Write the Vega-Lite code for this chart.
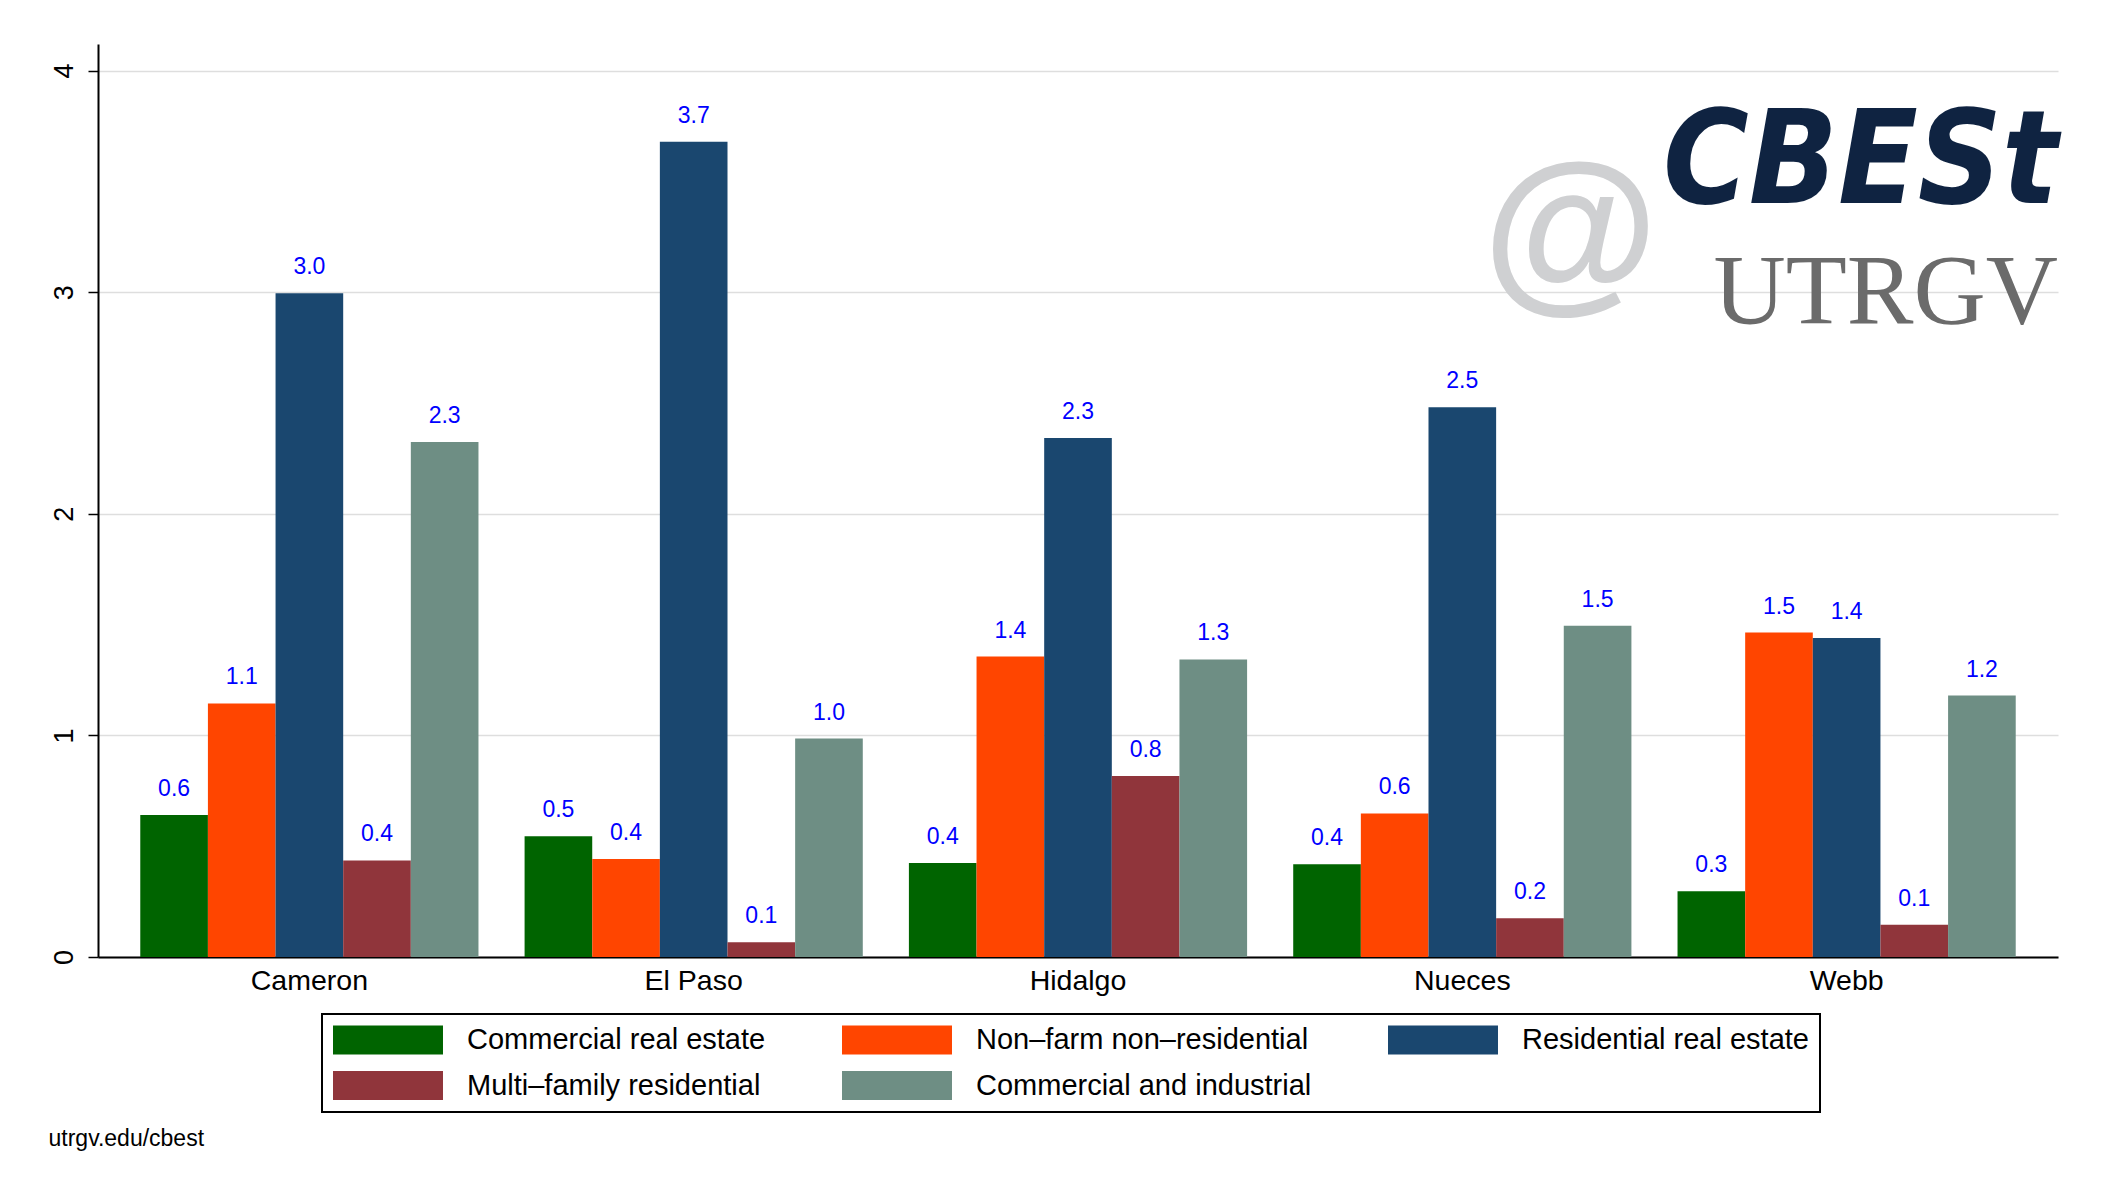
{
  "$schema": "https://vega.github.io/schema/vega-lite/v6.json",
  "width": 1960,
  "height": 913,
  "autosize": {"type": "none"},
  "padding": {"left": 98, "top": 44, "right": 43, "bottom": 244},
  "background": "white",
  "title": {
    "text": "CBESt",
    "subtitle": "UTRGV",
    "orient": "top",
    "anchor": "end",
    "frame": "group",
    "offset": -300,
    "font": "Liberation Sans Narrow, DejaVu Sans Condensed, sans-serif",
    "fontSize": 130,
    "fontWeight": "bold",
    "fontStyle": "italic",
    "color": "#0f2341",
    "subtitleFont": "Liberation Serif, DejaVu Serif, serif",
    "subtitleFontSize": 100,
    "subtitleColor": "#6b6b6b",
    "subtitlePadding": 14
  },
  "data": {
    "values": [
      {"county": "Cameron", "series": "Commercial real estate", "value": 0.641},
      {"county": "Cameron", "series": "Non–farm non–residential", "value": 1.144},
      {"county": "Cameron", "series": "Residential real estate", "value": 2.995},
      {"county": "Cameron", "series": "Multi–family residential", "value": 0.436},
      {"county": "Cameron", "series": "Commercial and industrial", "value": 2.324},
      {"county": "El Paso", "series": "Commercial real estate", "value": 0.545},
      {"county": "El Paso", "series": "Non–farm non–residential", "value": 0.442},
      {"county": "El Paso", "series": "Residential real estate", "value": 3.679},
      {"county": "El Paso", "series": "Multi–family residential", "value": 0.067},
      {"county": "El Paso", "series": "Commercial and industrial", "value": 0.986},
      {"county": "Hidalgo", "series": "Commercial real estate", "value": 0.424},
      {"county": "Hidalgo", "series": "Non–farm non–residential", "value": 1.356},
      {"county": "Hidalgo", "series": "Residential real estate", "value": 2.342},
      {"county": "Hidalgo", "series": "Multi–family residential", "value": 0.817},
      {"county": "Hidalgo", "series": "Commercial and industrial", "value": 1.343},
      {"county": "Nueces", "series": "Commercial real estate", "value": 0.418},
      {"county": "Nueces", "series": "Non–farm non–residential", "value": 0.648},
      {"county": "Nueces", "series": "Residential real estate", "value": 2.481},
      {"county": "Nueces", "series": "Multi–family residential", "value": 0.175},
      {"county": "Nueces", "series": "Commercial and industrial", "value": 1.495},
      {"county": "Webb", "series": "Commercial real estate", "value": 0.297},
      {"county": "Webb", "series": "Non–farm non–residential", "value": 1.464},
      {"county": "Webb", "series": "Residential real estate", "value": 1.44},
      {"county": "Webb", "series": "Multi–family residential", "value": 0.145},
      {"county": "Webb", "series": "Commercial and industrial", "value": 1.18}
    ]
  },
  "encoding": {
    "x": {
      "field": "county",
      "type": "nominal",
      "sort": null,
      "scale": {"paddingInner": 0.12, "paddingOuter": 0.11},
      "axis": {
        "title": "utrgv.edu/cbest",
        "titleX": -50,
        "titleY": 188,
        "titleAlign": "left",
        "titleBaseline": "alphabetic",
        "titleFontSize": 23,
        "titleFontWeight": "normal",
        "titleColor": "black",
        "labelAngle": 0,
        "labelFontSize": 28.5,
        "labelColor": "black",
        "labelPadding": 9,
        "labelBaseline": "top",
        "ticks": false,
        "tickSize": 0,
        "domain": true,
        "domainColor": "black",
        "domainWidth": 2,
        "grid": false
      }
    },
    "xOffset": {
      "field": "series",
      "type": "nominal",
      "sort": ["Commercial real estate", "Non–farm non–residential", "Residential real estate", "Multi–family residential", "Commercial and industrial"],
      "scale": {"paddingInner": 0, "paddingOuter": 0}
    },
    "y": {
      "field": "value",
      "type": "quantitative",
      "scale": {"domain": [0, 4.12], "nice": false, "zero": true},
      "axis": {
        "title": "@",
        "titleAngle": 0,
        "titleX": 1472,
        "titleY": 190,
        "titleAlign": "center",
        "titleBaseline": "middle",
        "titleFontSize": 180,
        "titleFontWeight": "bold",
        "titleColor": "#cfd0d2",
        "values": [0, 1, 2, 3, 4],
        "labelAngle": -90,
        "labelAlign": "center",
        "labelBaseline": "alphabetic",
        "labelPadding": 16,
        "labelFontSize": 27,
        "labelColor": "black",
        "tickSize": 10,
        "tickColor": "black",
        "tickWidth": 1.5,
        "domainColor": "black",
        "domainWidth": 2,
        "grid": true,
        "gridColor": "#dedede",
        "gridWidth": 1.5
      }
    }
  },
  "layer": [
    {
      "mark": {"type": "bar"},
      "encoding": {
        "color": {
          "field": "series",
          "type": "nominal",
          "scale": {
            "domain": ["Commercial real estate", "Non–farm non–residential", "Residential real estate", "Multi–family residential", "Commercial and industrial"],
            "range": ["#006400", "#ff4500", "#1a476f", "#90353b", "#6e8e84"]
          },
          "legend": {
            "orient": "none",
            "legendX": 224,
            "legendY": 970,
            "columns": 3,
            "direction": "horizontal",
            "title": null,
            "symbolType": "M-1,-0.967L6.333,-0.967L6.333,0.967L-1,0.967Z",
            "symbolSize": 900,
            "symbolStrokeWidth": 0,
            "symbolOpacity": 1,
            "labelOffset": 104,
            "labelFontSize": 29,
            "labelColor": "black",
            "labelLimit": 600,
            "columnPadding": 76,
            "rowPadding": 15.5,
            "padding": 11,
            "strokeColor": "black"
          }
        }
      }
    },
    {
      "mark": {"type": "text", "baseline": "alphabetic", "dy": -19, "fontSize": 23, "color": "#0000ff"},
      "encoding": {
        "text": {"field": "value", "type": "quantitative", "format": ".1f"}
      }
    }
  ],
  "config": {
    "font": "Liberation Sans, Arial, sans-serif",
    "view": {"stroke": null},
    "legend": {"strokeWidth": 2}
  }
}
